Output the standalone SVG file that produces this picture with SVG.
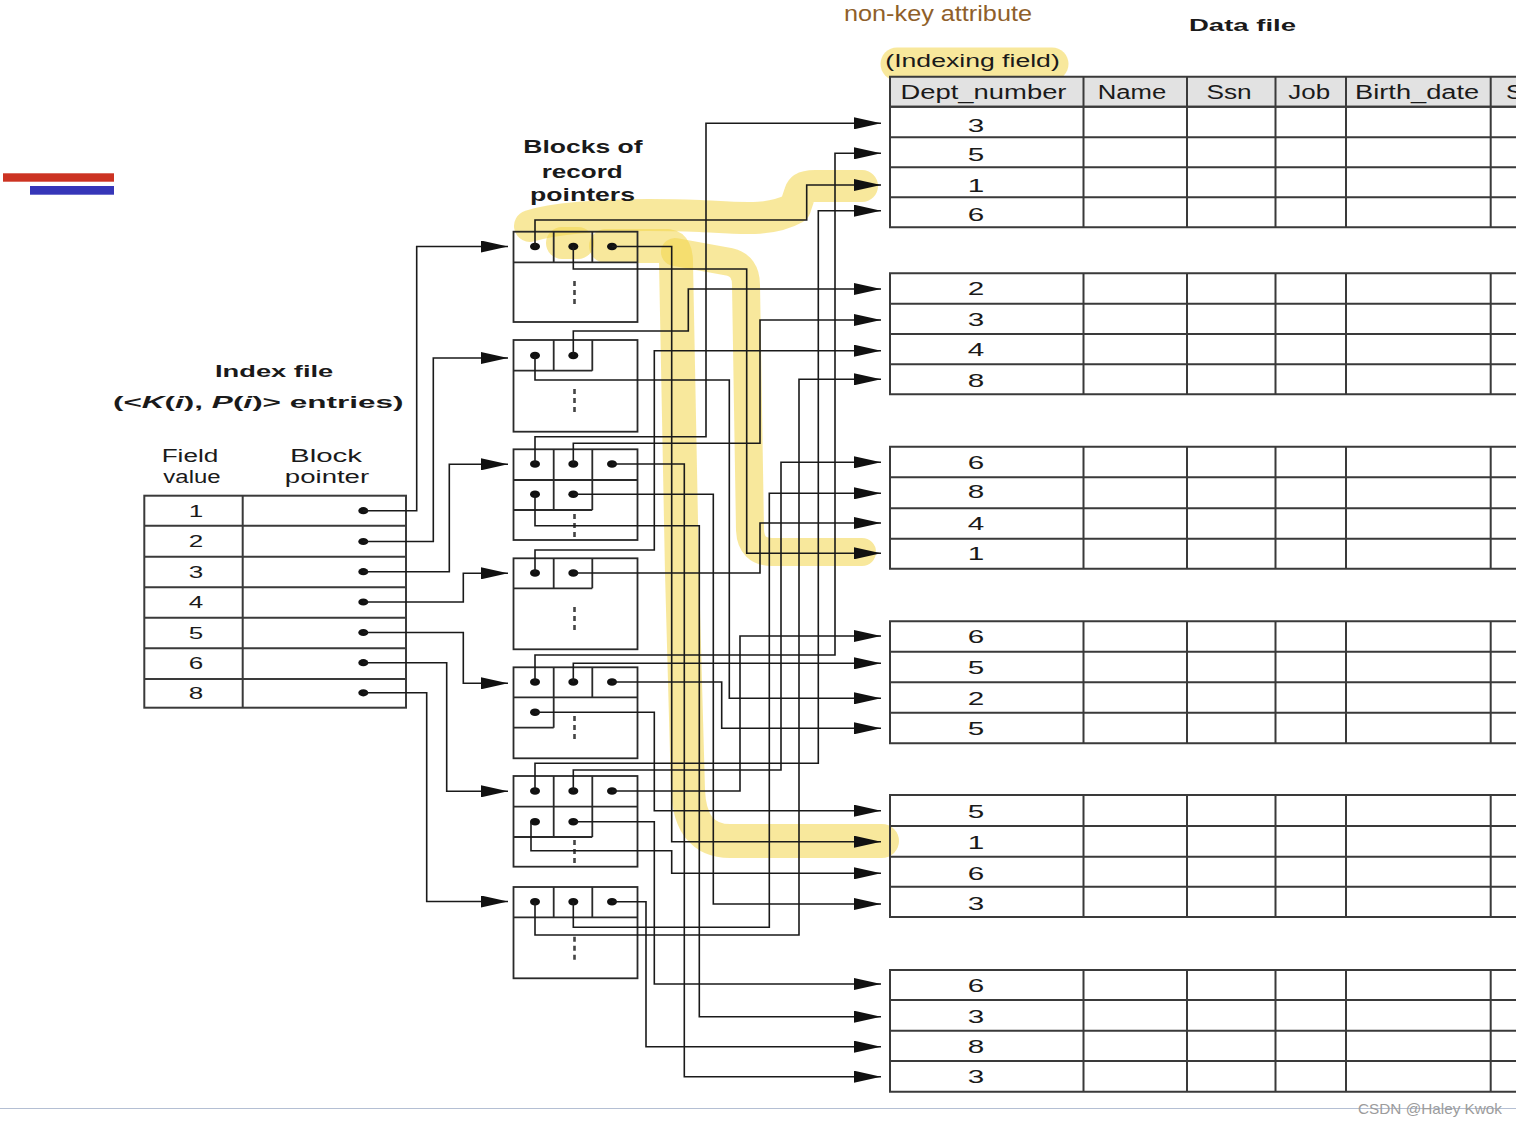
<svg xmlns="http://www.w3.org/2000/svg" width="1516" height="1126" viewBox="0 0 1516 1126">
<style>
.t{font-family:"Liberation Sans",Arial,sans-serif;fill:#1a1a1a}
.b{font-weight:bold}
.hd{font-size:20px}
.dv{font-size:19px;text-anchor:middle}
.iv{font-size:17px;text-anchor:middle}
.lbl{font-size:17.5px}
.tl{fill:none;stroke:#3a3a3a;stroke-width:2}
.bl{fill:none;stroke:#2a2a2a;stroke-width:1.8}
.dash{fill:none;stroke:#444;stroke-width:2.6;stroke-dasharray:5 4}
.dot{fill:#111}
.cn path{fill:none;stroke:#1a1a1a;stroke-width:1.6;marker-end:url(#ah)}
.hl{fill:none;stroke:#f2d64b;stroke-opacity:.55;stroke-linecap:round;stroke-linejoin:round}
</style>
<defs>
<marker id="ah" markerUnits="userSpaceOnUse" markerWidth="28" markerHeight="12" refX="27" refY="6" orient="auto" viewBox="0 0 27 12"><path d="M0,0 L27,6 L0,12 z" fill="#111"/></marker>
</defs>
<rect x="0" y="0" width="1516" height="1126" fill="#fff"/>

<g id="highlights">
<path class="hl" stroke-width="33" d="M897,64 L1052,64"/>
<path class="hl" stroke-width="32" d="M530,226 C570,214 640,214 700,216 C740,218 770,222 795,208 L800,193 Q802,186 815,186 L862,186"/>
<path class="hl" stroke-width="32" d="M562,243 L578,243"/>
<path class="hl" stroke-width="34" d="M606,246 L668,246 Q676,247 676,262 L682,573 L688,790 Q690,841 730,841 L882,841"/>
<path class="hl" stroke-width="28" d="M675,252 L730,262 Q746,266 746,285 L750,530 Q751,552 772,552 L862,552"/>
</g>

<g id="marks">
<rect x="3" y="173.3" width="111" height="8.4" fill="#cc3322"/>
<rect x="30" y="186" width="84" height="8.7" fill="#3636b8"/>
<line x1="0" y1="1108.5" x2="1516" y2="1108.5" stroke="#b4bfd3" stroke-width="1.2"/>
<text class="t" x="1358" y="1114" font-size="15" textLength="144" lengthAdjust="spacingAndGlyphs" style="fill:#9c9c9c">CSDN @Haley Kwok</text>
</g>

<g id="title-labels">
<text class="t" x="844" y="20.7" font-size="22" textLength="188" lengthAdjust="spacingAndGlyphs" style="fill:#8f5f2a">non-key attribute</text>
<text class="t b" x="1189" y="30.7" font-size="17" textLength="107" lengthAdjust="spacingAndGlyphs">Data file</text>
<text class="t" x="885.3" y="66.7" font-size="18" textLength="174.5" lengthAdjust="spacingAndGlyphs">(Indexing field)</text>
<text class="t b" x="523.3" y="153.3" font-size="18.5" textLength="119.3" lengthAdjust="spacingAndGlyphs">Blocks of</text>
<text class="t b" x="541.7" y="177.7" font-size="18.5" textLength="81" lengthAdjust="spacingAndGlyphs">record</text>
<text class="t b" x="530" y="201" font-size="18.5" textLength="105" lengthAdjust="spacingAndGlyphs">pointers</text>
<text class="t b" x="215" y="376.7" font-size="16.5" textLength="118.3" lengthAdjust="spacingAndGlyphs">Index file</text>
<text class="t b" x="113" y="407.5" font-size="16.5" textLength="290.5" lengthAdjust="spacingAndGlyphs">(&lt;<tspan font-style="italic">K</tspan>(<tspan font-style="italic">i</tspan>), <tspan font-style="italic">P</tspan>(<tspan font-style="italic">i</tspan>)&gt; entries)</text>
</g>

<g id="index-file">
<text class="t lbl" x="190" y="461.7" text-anchor="middle" textLength="56.7" lengthAdjust="spacingAndGlyphs">Field</text>
<text class="t lbl" x="192" y="483.3" text-anchor="middle" textLength="57.3" lengthAdjust="spacingAndGlyphs">value</text>
<text class="t lbl" x="326" y="461.7" text-anchor="middle" textLength="72" lengthAdjust="spacingAndGlyphs">Block</text>
<text class="t lbl" x="327" y="483.3" text-anchor="middle" textLength="84.3" lengthAdjust="spacingAndGlyphs">pointer</text>
<rect class="tl" x="144.3" y="495.7" width="261.7" height="212"/>
<path class="tl" d="M242.7,495.7 V707.7 M144.3,525.7 H406 M144.3,556.7 H406 M144.3,587.3 H406 M144.3,617.7 H406 M144.3,648.3 H406 M144.3,679 H406"/>
<g class="t iv">
<text x="196" y="516.7" textLength="14.5" lengthAdjust="spacingAndGlyphs">1</text>
<text x="196" y="546.7" textLength="14.5" lengthAdjust="spacingAndGlyphs">2</text>
<text x="196" y="578" textLength="14.5" lengthAdjust="spacingAndGlyphs">3</text>
<text x="196" y="608.3" textLength="14.5" lengthAdjust="spacingAndGlyphs">4</text>
<text x="196" y="639" textLength="14.5" lengthAdjust="spacingAndGlyphs">5</text>
<text x="196" y="669.3" textLength="14.5" lengthAdjust="spacingAndGlyphs">6</text>
<text x="196" y="699.3" textLength="14.5" lengthAdjust="spacingAndGlyphs">8</text>
</g>
<g class="dot">
<ellipse cx="363.3" cy="510.7" rx="5" ry="3.6"/>
<ellipse cx="363.3" cy="541.5" rx="5" ry="3.6"/>
<ellipse cx="363.3" cy="571.7" rx="5" ry="3.6"/>
<ellipse cx="363.3" cy="602" rx="5" ry="3.6"/>
<ellipse cx="363.3" cy="632.5" rx="5" ry="3.6"/>
<ellipse cx="363.3" cy="662.7" rx="5" ry="3.6"/>
<ellipse cx="363.3" cy="692.8" rx="5" ry="3.6"/>
</g>
</g>

<g id="ptr-block-1">
<rect class="bl" x="513.5" y="231.7" width="124" height="90.3"/>
<path class="bl" d="M513.5,262.3 H637.5 M553.7,231.7 V262.3 M592.3,231.7 V262.3"/>
<path class="dash" d="M574.5,281 V306"/>
<g class="dot"><ellipse cx="535" cy="246.5" rx="5" ry="3.8"/><ellipse cx="573.3" cy="246.5" rx="5" ry="3.8"/><ellipse cx="612" cy="246.5" rx="5" ry="3.8"/></g>
</g>
<g id="ptr-block-2">
<rect class="bl" x="513.5" y="340" width="124" height="91.7"/>
<path class="bl" d="M513.5,370.7 H592.3 M553.7,340 V370.7 M592.3,340 V370.7"/>
<path class="dash" d="M574.5,389 V414"/>
<g class="dot"><ellipse cx="535" cy="355.5" rx="5" ry="3.8"/><ellipse cx="573.3" cy="355.5" rx="5" ry="3.8"/></g>
</g>
<g id="ptr-block-3">
<rect class="bl" x="513.5" y="449.3" width="124" height="90.7"/>
<path class="bl" d="M513.5,480 H637.5 M513.5,510 H592.3 M553.7,449.3 V510 M592.3,449.3 V510"/>
<path class="dash" d="M574.5,514 V539"/>
<g class="dot"><ellipse cx="535" cy="464" rx="5" ry="3.8"/><ellipse cx="573.3" cy="464" rx="5" ry="3.8"/><ellipse cx="612" cy="464" rx="5" ry="3.8"/><ellipse cx="535" cy="494.3" rx="5" ry="3.8"/><ellipse cx="573.3" cy="494.3" rx="5" ry="3.8"/></g>
</g>
<g id="ptr-block-4">
<rect class="bl" x="513.5" y="558.3" width="124" height="91"/>
<path class="bl" d="M513.5,588.3 H592.3 M553.7,558.3 V588.3 M592.3,558.3 V588.3"/>
<path class="dash" d="M574.5,607 V632"/>
<g class="dot"><ellipse cx="535" cy="573" rx="5" ry="3.8"/><ellipse cx="573.3" cy="573" rx="5" ry="3.8"/></g>
</g>
<g id="ptr-block-5">
<rect class="bl" x="513.5" y="667.3" width="124" height="91"/>
<path class="bl" d="M513.5,697.3 H637.5 M513.5,727.7 H553.7 M553.7,667.3 V727.7 M592.3,667.3 V697.3"/>
<path class="dash" d="M574.5,716 V741"/>
<g class="dot"><ellipse cx="535" cy="682" rx="5" ry="3.8"/><ellipse cx="573.3" cy="682" rx="5" ry="3.8"/><ellipse cx="612" cy="682" rx="5" ry="3.8"/><ellipse cx="535" cy="712.3" rx="5" ry="3.8"/></g>
</g>
<g id="ptr-block-6">
<rect class="bl" x="513.5" y="776" width="124" height="90.7"/>
<path class="bl" d="M513.5,806.7 H637.5 M513.5,837 H592.3 M553.7,776 V837 M592.3,776 V837"/>
<path class="dash" d="M574.5,840 V866"/>
<g class="dot"><ellipse cx="535" cy="791" rx="5" ry="3.8"/><ellipse cx="573.3" cy="791" rx="5" ry="3.8"/><ellipse cx="612" cy="791" rx="5" ry="3.8"/><ellipse cx="535" cy="821.7" rx="5" ry="3.8"/><ellipse cx="573.3" cy="821.7" rx="5" ry="3.8"/></g>
</g>
<g id="ptr-block-7">
<rect class="bl" x="513.5" y="887" width="124" height="91.3"/>
<path class="bl" d="M513.5,917.3 H637.5 M553.7,887 V917.3 M592.3,887 V917.3"/>
<path class="dash" d="M574.5,936.7 V961"/>
<g class="dot"><ellipse cx="535" cy="901.7" rx="5" ry="3.8"/><ellipse cx="573.3" cy="901.7" rx="5" ry="3.8"/><ellipse cx="612" cy="901.7" rx="5" ry="3.8"/></g>
</g>

<g id="data-header">
<rect x="890" y="76.7" width="640" height="30" fill="#e2e2e2"/>
<path class="tl" d="M1530,76.7 H890 V106.7 H1530 M1083.5,76.7 V106.7 M1187,76.7 V106.7 M1275.5,76.7 V106.7 M1346,76.7 V106.7 M1490.7,76.7 V106.7"/>
<text class="t hd" x="900.5" y="98.5" textLength="166" lengthAdjust="spacingAndGlyphs">Dept_number</text>
<text class="t hd" x="1097.8" y="98.5" textLength="68.5" lengthAdjust="spacingAndGlyphs">Name</text>
<text class="t hd" x="1206.4" y="98.5" textLength="45.2" lengthAdjust="spacingAndGlyphs">Ssn</text>
<text class="t hd" x="1288.3" y="98.5" textLength="41.8" lengthAdjust="spacingAndGlyphs">Job</text>
<text class="t hd" x="1355.1" y="98.5" textLength="124.1" lengthAdjust="spacingAndGlyphs">Birth_date</text>
<text class="t hd" x="1506" y="98.5" textLength="17" lengthAdjust="spacingAndGlyphs">S</text>
</g>

<g id="data-block-1">
<path class="tl" d="M1530,106.7 H890 V227.3 H1530 M890,137.3 H1530 M890,167.3 H1530 M890,197.3 H1530 M1083.5,106.7 V227.3 M1187,106.7 V227.3 M1275.5,106.7 V227.3 M1346,106.7 V227.3 M1490.7,106.7 V227.3"/>
<g class="t dv"><text x="976" y="131.5" textLength="16.5" lengthAdjust="spacingAndGlyphs">3</text><text x="976" y="161" textLength="16.5" lengthAdjust="spacingAndGlyphs">5</text><text x="976" y="191.5" textLength="16.5" lengthAdjust="spacingAndGlyphs">1</text><text x="976" y="220.7" textLength="16.5" lengthAdjust="spacingAndGlyphs">6</text></g>
</g>
<g id="data-block-2">
<path class="tl" d="M1530,273.3 H890 V394.3 H1530 M890,303.7 H1530 M890,334 H1530 M890,364.3 H1530 M1083.5,273.3 V394.3 M1187,273.3 V394.3 M1275.5,273.3 V394.3 M1346,273.3 V394.3 M1490.7,273.3 V394.3"/>
<g class="t dv"><text x="976" y="295" textLength="16.5" lengthAdjust="spacingAndGlyphs">2</text><text x="976" y="325.7" textLength="16.5" lengthAdjust="spacingAndGlyphs">3</text><text x="976" y="356" textLength="16.5" lengthAdjust="spacingAndGlyphs">4</text><text x="976" y="386.7" textLength="16.5" lengthAdjust="spacingAndGlyphs">8</text></g>
</g>
<g id="data-block-3">
<path class="tl" d="M1530,446.7 H890 V568.7 H1530 M890,477.3 H1530 M890,508.3 H1530 M890,538.7 H1530 M1083.5,446.7 V568.7 M1187,446.7 V568.7 M1275.5,446.7 V568.7 M1346,446.7 V568.7 M1490.7,446.7 V568.7"/>
<g class="t dv"><text x="976" y="469.3" textLength="16.5" lengthAdjust="spacingAndGlyphs">6</text><text x="976" y="498.3" textLength="16.5" lengthAdjust="spacingAndGlyphs">8</text><text x="976" y="530" textLength="16.5" lengthAdjust="spacingAndGlyphs">4</text><text x="976" y="560" textLength="16.5" lengthAdjust="spacingAndGlyphs">1</text></g>
</g>
<g id="data-block-4">
<path class="tl" d="M1530,621.3 H890 V743.3 H1530 M890,651.7 H1530 M890,682.3 H1530 M890,712.7 H1530 M1083.5,621.3 V743.3 M1187,621.3 V743.3 M1275.5,621.3 V743.3 M1346,621.3 V743.3 M1490.7,621.3 V743.3"/>
<g class="t dv"><text x="976" y="643.3" textLength="16.5" lengthAdjust="spacingAndGlyphs">6</text><text x="976" y="674" textLength="16.5" lengthAdjust="spacingAndGlyphs">5</text><text x="976" y="704.5" textLength="16.5" lengthAdjust="spacingAndGlyphs">2</text><text x="976" y="735" textLength="16.5" lengthAdjust="spacingAndGlyphs">5</text></g>
</g>
<g id="data-block-5">
<path class="tl" d="M1530,795 H890 V917 H1530 M890,826 H1530 M890,856.7 H1530 M890,886.7 H1530 M1083.5,795 V917 M1187,795 V917 M1275.5,795 V917 M1346,795 V917 M1490.7,795 V917"/>
<g class="t dv"><text x="976" y="818.3" textLength="16.5" lengthAdjust="spacingAndGlyphs">5</text><text x="976" y="849" textLength="16.5" lengthAdjust="spacingAndGlyphs">1</text><text x="976" y="879.5" textLength="16.5" lengthAdjust="spacingAndGlyphs">6</text><text x="976" y="910" textLength="16.5" lengthAdjust="spacingAndGlyphs">3</text></g>
</g>
<g id="data-block-6">
<path class="tl" d="M1530,970 H890 V1091.7 H1530 M890,1000 H1530 M890,1030.7 H1530 M890,1061 H1530 M1083.5,970 V1091.7 M1187,970 V1091.7 M1275.5,970 V1091.7 M1346,970 V1091.7 M1490.7,970 V1091.7"/>
<g class="t dv"><text x="976" y="991.7" textLength="16.5" lengthAdjust="spacingAndGlyphs">6</text><text x="976" y="1022.5" textLength="16.5" lengthAdjust="spacingAndGlyphs">3</text><text x="976" y="1053" textLength="16.5" lengthAdjust="spacingAndGlyphs">8</text><text x="976" y="1083.3" textLength="16.5" lengthAdjust="spacingAndGlyphs">3</text></g>
</g>

<g id="connectors" class="cn">
<path d="M363,510.7 H416.7 V246.5 H508"/>
<path d="M363,541.5 H433.3 V358 H508"/>
<path d="M363,571.7 H449.3 V464.3 H508"/>
<path d="M363,602 H463.3 V573.3 H508"/>
<path d="M363,632.5 H463.3 V683.3 H508"/>
<path d="M363,662.7 H446.7 V791.3 H508"/>
<path d="M363,692.8 H426.7 V901.5 H508"/>
<path d="M535,246.5 V220 H806.7 V185 H881"/>
<path d="M573.3,246.5 V269 H746.7 V553.3 H881"/>
<path d="M612,246.5 H671.7 V841.7 H881"/>
<path d="M535,355.5 V380 H729.3 V698.3 H881"/>
<path d="M573.3,355.5 V331 H688.3 V289 H881"/>
<path d="M535,464 V436.7 H706 V123.3 H881"/>
<path d="M573.3,464 V443.3 H760 V320 H881"/>
<path d="M612,464 H684.3 V1076.7 H881"/>
<path d="M535,494.3 V525.7 H699.3 V1016.7 H881"/>
<path d="M573.3,494.3 H713.3 V904 H881"/>
<path d="M535,573 V550 H654.3 V350.7 H881"/>
<path d="M573.3,573 H760 V523 H881"/>
<path d="M535,682 V655 H835 V153.3 H881"/>
<path d="M573.3,682 V663.3 H881"/>
<path d="M612,682 H721.7 V728.3 H881"/>
<path d="M535,712.3 H654.3 V810.7 H881"/>
<path d="M535,791 V763.3 H818.3 V210.7 H881"/>
<path d="M573.3,791 V770 H781 V462.3 H881"/>
<path d="M612,791 H740 V636 H881"/>
<path d="M531,821.7 V850.7 H671.7 V873.3 H881"/>
<path d="M573.3,821.7 H654.3 V984 H881"/>
<path d="M535,901.7 V935 H799 V379.3 H881"/>
<path d="M573.3,901.7 V927.3 H769.3 V493.3 H881"/>
<path d="M612,901.7 H646 V1046.7 H881"/>
</g>
</svg>
